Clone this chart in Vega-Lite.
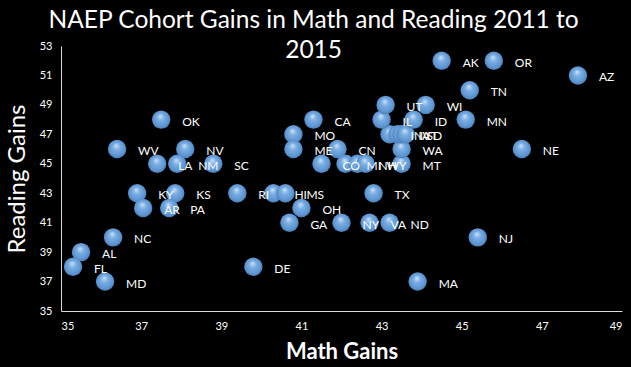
{
  "$schema": "https://vega.github.io/schema/vega-lite/v6.json",
  "width": 561,
  "height": 265,
  "autosize": {"type": "none"},
  "padding": {"left": 61, "top": 46, "right": 9, "bottom": 56},
  "background": "black",
  "config": {"view": {"stroke": null}},
  "title": {
    "text": ["NAEP Cohort Gains in Math and Reading 2011 to", "2015"],
    "color": "white",
    "font": "Lato",
    "fontSize": 24.5,
    "fontWeight": "normal",
    "anchor": "middle",
    "frame": "bounds",
    "offset": -23,
    "lineHeight": 30
  },
  "data": {
    "values": [
      {"s": "AK", "m": 44.5, "r": 52},
      {"s": "OR", "m": 45.8, "r": 52},
      {"s": "AZ", "m": 47.9, "r": 51},
      {"s": "TN", "m": 45.2, "r": 50},
      {"s": "MN", "m": 45.1, "r": 48},
      {"s": "NE", "m": 46.5, "r": 46},
      {"s": "NJ", "m": 45.4, "r": 40},
      {"s": "MA", "m": 43.9, "r": 37},
      {"s": "DE", "m": 39.8, "r": 38},
      {"s": "NC", "m": 36.3, "r": 40},
      {"s": "AL", "m": 35.5, "r": 39},
      {"s": "FL", "m": 35.3, "r": 38},
      {"s": "MD", "m": 36.1, "r": 37},
      {"s": "OK", "m": 37.5, "r": 48},
      {"s": "WV", "m": 36.4, "r": 46},
      {"s": "NV", "m": 38.1, "r": 46},
      {"s": "LA", "m": 37.4, "r": 45},
      {"s": "NM", "m": 37.9, "r": 45},
      {"s": "SC", "m": 38.8, "r": 45},
      {"s": "KY", "m": 36.9, "r": 43},
      {"s": "KS", "m": 37.85, "r": 43},
      {"s": "AR", "m": 37.05, "r": 42},
      {"s": "PA", "m": 37.7, "r": 42},
      {"s": "RI", "m": 39.4, "r": 43},
      {"s": "HI", "m": 40.3, "r": 43},
      {"s": "MS", "m": 40.6, "r": 43},
      {"s": "OH", "m": 41.0, "r": 42},
      {"s": "GA", "m": 40.7, "r": 41},
      {"s": "NY", "m": 42.0, "r": 41},
      {"s": "VA", "m": 42.7, "r": 41},
      {"s": "ND", "m": 43.2, "r": 41},
      {"s": "TX", "m": 42.8, "r": 43},
      {"s": "CA", "m": 41.3, "r": 48},
      {"s": "MO", "m": 40.8, "r": 47},
      {"s": "ME", "m": 40.8, "r": 46},
      {"s": "CN", "m": 41.9, "r": 46},
      {"s": "CO", "m": 41.5, "r": 45},
      {"s": "MI", "m": 42.1, "r": 45},
      {"s": "NH", "m": 42.4, "r": 45},
      {"s": "WY", "m": 42.6, "r": 45},
      {"s": "MT", "m": 43.5, "r": 45},
      {"s": "WA", "m": 43.5, "r": 46},
      {"s": "IN", "m": 43.2, "r": 47},
      {"s": "IA", "m": 43.4, "r": 47},
      {"s": "VT", "m": 43.5, "r": 47},
      {"s": "SD", "m": 43.6, "r": 47},
      {"s": "IL", "m": 43.0, "r": 48},
      {"s": "ID", "m": 43.8, "r": 48},
      {"s": "UT", "m": 43.1, "r": 49},
      {"s": "WI", "m": 44.1, "r": 49}
    ]
  },
  "encoding": {
    "x": {
      "field": "m",
      "type": "quantitative",
      "scale": {"domain": [35, 49], "nice": false, "zero": false},
      "axis": {
        "values": [35, 37, 39, 41, 43, 45, 47, 49],
        "grid": false,
        "ticks": false,
        "domainColor": "#d9d9d9",
        "labelColor": "white",
        "labelFont": "Lato",
        "labelFontSize": 11,
        "labelPadding": 9,
        "title": "Math Gains",
        "titleColor": "white",
        "titleFont": "Lato",
        "titleFontSize": 22,
        "titleFontWeight": "bold",
        "titlePadding": 10
      }
    },
    "y": {
      "field": "r",
      "type": "quantitative",
      "scale": {"domain": [35, 53], "nice": false, "zero": false},
      "axis": {
        "values": [35, 37, 39, 41, 43, 45, 47, 49, 51, 53],
        "grid": false,
        "ticks": false,
        "domainColor": "#d9d9d9",
        "labelColor": "white",
        "labelFont": "Lato",
        "labelFontSize": 11,
        "labelPadding": 9,
        "title": "Reading Gains",
        "titleColor": "white",
        "titleFont": "Lato",
        "titleFontSize": 24,
        "titleFontWeight": "normal",
        "titlePadding": 10
      }
    }
  },
  "layer": [
    {
      "mark": {
        "type": "point",
        "filled": true,
        "size": 340,
        "opacity": 1,
        "color": {
          "gradient": "radial",
          "x1": 0.45, "y1": 0.3, "r1": 0,
          "x2": 0.5, "y2": 0.5, "r2": 0.55,
          "stops": [
            {"offset": 0, "color": "#cfe3f7"},
            {"offset": 0.35, "color": "#7aaee3"},
            {"offset": 0.8, "color": "#5b93cf"},
            {"offset": 1, "color": "#3d6fa5"}
          ]
        }
      }
    },
    {
      "mark": {
        "type": "text",
        "align": "left",
        "baseline": "middle",
        "dx": 21,
        "dy": 2,
        "color": "white",
        "font": "Lato",
        "fontSize": 12
      },
      "encoding": {"text": {"field": "s"}}
    }
  ]
}
